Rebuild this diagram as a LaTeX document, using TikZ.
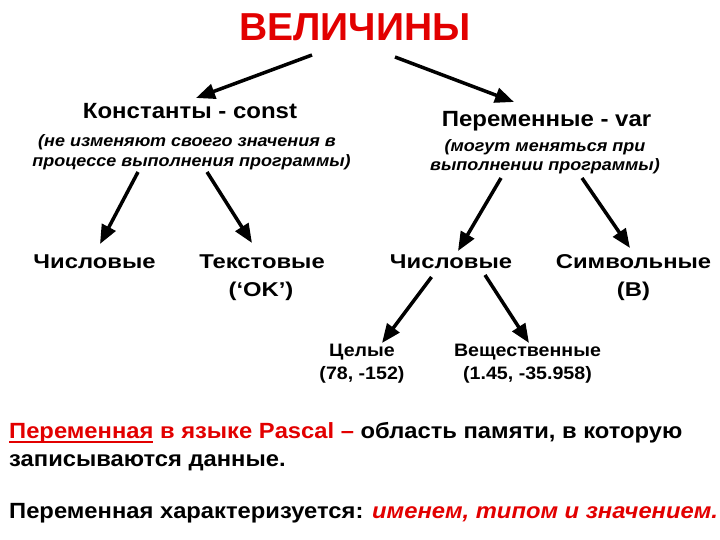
\documentclass[tikz,border=0pt]{standalone}
\usepackage{fontspec}
\usepackage{graphicx}
\setmainfont{Liberation Sans}
\newfontfamily\wideA[FakeStretch=1.09]{Liberation Sans}
\newfontfamily\wideB[FakeStretch=1.19]{Liberation Sans}
\newfontfamily\wideP[FakeStretch=1.08]{Liberation Sans}
\usetikzlibrary{arrows.meta}
\definecolor{myred}{RGB}{226,0,0}
\newcommand\thickul[1]{\setbox0\hbox{#1}\rlap{\raisebox{-5.2pt}{\rule{\wd0}{1.8pt}}}\box0\relax}
\begin{document}
\begin{tikzpicture}[x=1pt,y=-1pt,
  arr/.style={line width=3.5pt,-{Triangle[length=19pt,width=15pt]}},
  head/.style={font=\wideA\bfseries\fontsize{22}{26}\selectfont, inner sep=0pt, anchor=base},
  sub/.style={font=\wideA\bfseries\itshape\fontsize{16.5}{20}\selectfont, inner sep=0pt, anchor=base},
  lbl/.style={font=\wideB\bfseries\fontsize{20}{24}\selectfont, inner sep=0pt, anchor=base},
  leaf/.style={font=\wideA\bfseries\fontsize{18}{22}\selectfont, inner sep=0pt, anchor=base},
  para/.style={font=\wideP\bfseries\fontsize{22}{26}\selectfont, inner sep=0pt, anchor=base west}]
\useasboundingbox (0,0) rectangle (720,540);
\node[font=\bfseries\fontsize{39}{44}\selectfont, text=myred, inner sep=0pt, anchor=base] (title) at (355,41) {ВЕЛИЧИНЫ};

\node[head] (konst) at (190,118.5) {Константы - const};
\node[sub] (konstsub1) at (187,147) {(не изменяют своего значения в};
\node[sub] (konstsub2) at (191.5,166.5) {процессе выполнения программы)};
\node[head] (perem) at (546.5,127) {Переменные - var};
\node[sub] (peremsub1) at (545,151.5) {(могут меняться при};
\node[sub] (peremsub2) at (545,170.5) {выполнении программы)};

\node[lbl] (chisl1) at (94.5,268.5) {Числовые};
\node[lbl] (tekst) at (262,268.5) {Текстовые};
\node[lbl] (tekst2) at (261,296) {(‘OK’)};
\node[lbl] (chisl2) at (451,268.5) {Числовые};
\node[lbl] (simv) at (633.5,268.5) {Символьные};
\node[lbl] (simv2) at (633.5,296) {(В)};

\node[leaf] (cel) at (362,356) {Целые};
\node[leaf] (cel2) at (362,379.5) {(78, -152)};
\node[leaf] (vesh) at (527.5,356) {Вещественные};
\node[leaf] (vesh2) at (527.5,379.5) {(1.45, -35.958)};

\coordinate (a1s) at (312,55); \coordinate (a1e) at (196,98);
\coordinate (a2s) at (395,57); \coordinate (a2e) at (514,102);
\draw[arr] (a1s) -- (a1e);
\draw[arr] (a2s) -- (a2e);

\coordinate (b1s) at (138,172); \coordinate (b1e) at (100,244);
\coordinate (b2s) at (207,172); \coordinate (b2e) at (252,243);
\coordinate (b3s) at (501,178); \coordinate (b3e) at (458,251);
\coordinate (b4s) at (582,178); \coordinate (b4e) at (630,248);
\draw[arr] (b1s) -- (b1e);
\draw[arr] (b2s) -- (b2e);
\draw[arr] (b3s) -- (b3e);
\draw[arr] (b4s) -- (b4e);

\coordinate (c1s) at (431.5,277); \coordinate (c1e) at (382,343);
\coordinate (c2s) at (485,275); \coordinate (c2e) at (529,343);
\draw[arr] (c1s) -- (c1e);
\draw[arr] (c2s) -- (c2e);

\node[para] (def1) at (9,438) {\textcolor{myred}{\thickul{Переменная} в языке Pascal –} область памяти, в которую};
\node[para] (def2) at (9,466) {записываются данные.};
\node[para] (char) at (9,518) {Переменная характеризуется: \textcolor{myred}{\itshape именем, типом и значением.}};
\end{tikzpicture}
\end{document}
